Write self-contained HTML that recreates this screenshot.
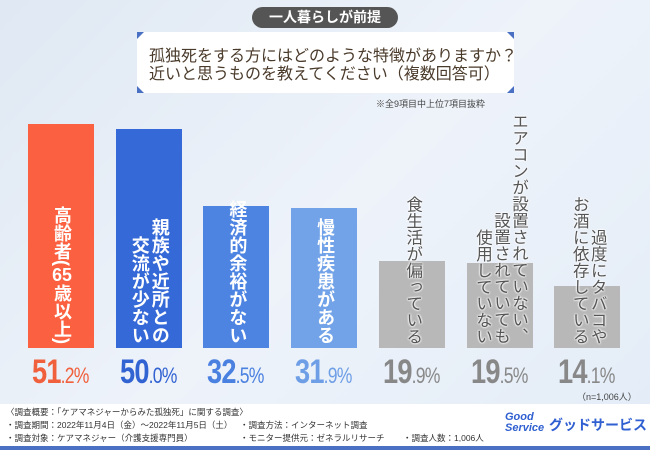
<!DOCTYPE html>
<html><head><meta charset="utf-8">
<style>
*{margin:0;padding:0;box-sizing:border-box}
body{width:650px;height:450px;overflow:hidden;font-family:"Liberation Sans","Noto Sans CJK JP",sans-serif;position:relative;background:linear-gradient(135deg,#dfe8f3 0%,#eef3fa 50%,#e3ecf7 100%)}
.abs{position:absolute}
#pill{left:252px;top:7px;width:146px;height:21px;border-radius:11px;background:#555;color:#fff;font-size:14px;font-weight:bold;text-align:center;line-height:21px}
#qbox{left:137px;top:32px;width:377px;height:61px;background:#fff}
.corner{position:absolute;width:0;height:0;border-style:solid}
#qtext{left:149px;top:48px;font-size:16px;color:#4a3a2a;line-height:18px;white-space:nowrap}
#note{left:376px;top:97px;font-size:9px;color:#444}
.bar{position:absolute}
.vt{position:absolute;writing-mode:vertical-rl;white-space:nowrap;font-weight:bold;line-height:1.05}
.vc{color:#fff;font-size:18px}
.vg{color:#555;font-size:16.5px;text-shadow:0 0 2px #fff,0 0 2px #fff,0 0 2px #fff;font-weight:normal}
.tcy{text-combine-upright:all}
.pct{position:absolute;top:353px;font-weight:bold;font-size:34px;white-space:nowrap;transform:scaleX(0.8);transform-origin:left top;letter-spacing:-1px}
.pct small{font-size:22px;font-weight:normal}
#footer{left:0;top:404px;width:650px;height:43px;background:#fff}
#fline{left:0;top:446px;width:650px;height:4px;background:#4a70c4}
.ft{position:absolute;font-size:8.5px;color:#333;white-space:nowrap}
</style></head><body>
<div id="pill" class="abs">一人暮らしが前提</div>
<div id="qbox" class="abs">
 <div class="corner" style="left:0;top:0;border-width:7px 7px 0 0;border-color:#4a70c4 transparent transparent transparent"></div>
 <div class="corner" style="right:0;top:0;border-width:0 7px 7px 0;border-color:transparent #4a70c4 transparent transparent"></div>
 <div class="corner" style="left:0;bottom:0;border-width:7px 0 0 7px;border-color:transparent transparent transparent #4a70c4"></div>
 <div class="corner" style="right:0;bottom:0;border-width:0 0 7px 7px;border-color:transparent transparent #4a70c4 transparent"></div>
</div>
<div id="qtext" class="abs">孤独死をする方にはどのような特徴がありますか？<br>近いと思うものを教えてください（複数回答可）</div>
<div id="note" class="abs">※全9項目中上位7項目抜粋</div>
<div id="chart"></div>
<div class="abs" style="left:577px;top:390px;font-size:9px;color:#444">（n=1,006人）</div>
<div id="footer" class="abs">
 <div class="ft" style="left:6px;top:2px">〈調査概要：「ケアマネジャーからみた孤独死」に関する調査〉</div>
 <div class="ft" style="left:6px;top:15px">・調査期間：2022年11月4日（金）〜2022年11月5日（土）</div>
 <div class="ft" style="left:6px;top:28px">・調査対象：ケアマネジャー（介護支援専門員）</div>
 <div class="ft" style="left:240px;top:15px">・調査方法：インターネット調査</div>
 <div class="ft" style="left:240px;top:28px">・モニター提供元：ゼネラルリサーチ</div>
 <div class="ft" style="left:403px;top:28px">・調査人数：1,006人</div>
 <div class="ft" style="left:505px;top:8px;font-size:11px;font-weight:bold;font-style:italic;color:#2f5fd0;line-height:11px">Good<br>Service</div>
 <div class="ft" style="left:549px;top:11px;font-size:14px;font-weight:bold;color:#2f5fd0">グッドサービス</div>
</div>
<div id="fline" class="abs"></div>
<script>
const categories=[["高齢者(<span class='tcy'>65</span>歳以上)"],["親族や近所との","交流が少ない"],["経済的余裕がない"],["慢性疾患がある"],["食生活が偏っている"],["エアコンが設置されていない、","設置されていても","使用していない"],["過度にタバコや","お酒に依存している"]];
const values=[51.2,50.0,32.5,31.9,19.9,19.5,14.1];
const colors=["#fb6140","#3569d8","#4d84e2","#72a3e8","#b8b8b8","#b8b8b8","#b8b8b8"];
const textColors=["#f0603c","#3263d2","#4a80e0","#6e9fe6","#888","#888","#888"];
const chart=document.getElementById('chart');
const baseY=348, scale=4.375, x0=28, step=87.7, bw=66;
const yOf=v=>baseY-v*scale;
values.forEach((v,i)=>{
  const x=x0+i*step;
  const b=document.createElement('div');
  b.className='bar';
  
  
  b.style.cssText=`left:${x}px;top:${yOf(v)}px;width:${bw}px;height:${baseY-yOf(v)}px;background:${colors[i]}`;
  chart.appendChild(b);
  const lines=categories[i];
  const gray=i>=4;
  const colW=gray?18:20;
  const total=lines.length*colW;
  lines.forEach((ln,j)=>{
    const t=document.createElement('div');
    t.className='vt '+(gray?'vg':'vc');
    
    
    t.innerHTML=ln;
    const cx=x+bw/2+total/2-(j+1)*colW;
    t.style.left=cx+'px';
    t.style.bottom=(450-344)+'px';
    t.style.width=colW+'px';
    chart.appendChild(t);
  });
  const p=document.createElement('div');
  p.className='pct';
  
  
  const s=v.toFixed(1).split('.');
  p.innerHTML=s[0]+'<small>.'+s[1]+'%</small>';
  p.style.color=textColors[i];
  p.style.left=(x+4)+'px';
  chart.appendChild(p);
});
</script>
</body></html>
